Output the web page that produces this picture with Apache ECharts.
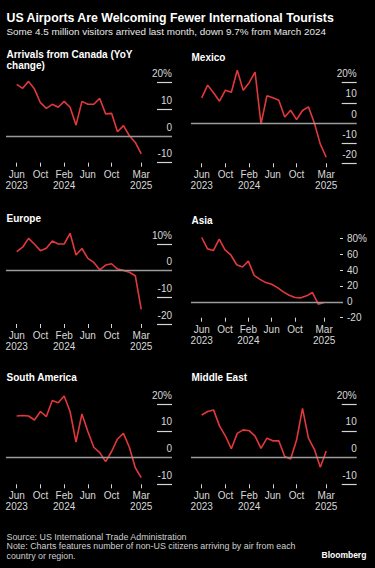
<!DOCTYPE html>
<html><head><meta charset="utf-8">
<script src="https://cdn.jsdelivr.net/npm/echarts@6/dist/echarts.min.js"></script>
<style>html,body{margin:0;padding:0;background:#000;}#c{width:375px;height:568px;}</style>
</head><body><div id="c"></div>
<script>
// Months Jun 2023 .. Mar 2025
const months = ['Jun 2023','Jul 2023','Aug 2023','Sep 2023','Oct 2023','Nov 2023','Dec 2023','Jan 2024','Feb 2024','Mar 2024','Apr 2024','May 2024','Jun 2024','Jul 2024','Aug 2024','Sep 2024','Oct 2024','Nov 2024','Dec 2024','Jan 2025','Feb 2025','Mar 2025'];
const tickMonths = ['Jun 2023','Oct 2023','Feb 2024','Jun 2024','Oct 2024','Mar 2025'];
const tickLabels = ['Jun\n2023','Oct','Feb\n2024','Jun','Oct','Mar\n2025'];

const canada = [19.4,17.9,20.5,17.6,12.5,10.4,11.9,10.8,13.0,10.8,4.1,13.0,11.9,11.9,14.1,8.3,8.5,1.6,3.9,0.1,-2.4,-6.7];
const mexico = [12.5,18.8,15.0,10.8,16.3,15.3,26.2,16.2,20.0,25.3,-0.5,13.5,12.5,11.3,3.0,6.3,1.7,6.2,8.0,0.0,-10.5,-17.0];
const europe = [7.1,8.8,12.1,9.9,7.5,8.4,11.1,10.0,10.0,14.0,5.9,8.3,4.6,3.1,0.3,2.1,2.6,0.6,0.1,-0.6,-1.9,-14.5];
const asia = [81,66.7,64.6,79,65.4,59,46.7,43.8,51.3,33.3,28.3,24.2,22.1,17.9,12.5,8.3,5.4,5.0,7.5,11.7,-2.9,-0.8];
const southAmerica = [15.6,15.8,15.6,14.1,17.3,15.4,21.4,20.6,23.1,17.3,5.8,16.4,9.8,3.9,1.9,-1.5,2.3,7.0,9.1,3.9,-3.8,-7.5];
const middleEast = [16.0,17.3,17.9,11.9,8.1,3.3,9.1,10.4,10.1,8.1,3.5,7.3,6.3,6.3,0.4,-0.5,6.6,18.5,7.3,3.1,-3.6,2.5];

const canadaTicks = [-10,0,10,20];
const mexicoTicks = [-20,-10,0,10,20];
const europeTicks = [-20,-10,0,10];
const asiaTicks = [-20,0,20,40,60,80];
const saTicks = [-10,0,10,20];
const meTicks = [-10,0,10,20];

const titles = ['Arrivals from Canada (YoY\nchange)','Mexico','Europe','Asia','South America','Middle East'];

const RED = '#e2383c';
const TICK = '#d4d4d4';
const ZERO = '#9a9a9a';
const LABEL = '#d8d8d8';
const tickIdx = tickMonths.map(m => months.indexOf(m));

const panels = [
  {data: canada, ticks: canadaTicks, left: 6, width: 166, top: 82.7, height: 80, jun: 16.7, ppm: 5.93, style: 'bb'},
  {data: mexico, ticks: mexicoTicks, left: 191, width: 165.7, top: 82.7, height: 80.6, jun: 201.7, ppm: 5.93, style: 'bb'},
  {data: europe, ticks: europeTicks, left: 6, width: 166, top: 244, height: 80, jun: 16.7, ppm: 5.93, style: 'bb'},
  {data: asia, ticks: asiaTicks, left: 191, width: 152, top: 238.3, height: 79.4, jun: 201.7, ppm: 5.83, style: 'asia'},
  {data: southAmerica, ticks: saTicks, left: 6, width: 166, top: 404.3, height: 80, jun: 16.7, ppm: 5.93, style: 'bb'},
  {data: middleEast, ticks: meTicks, left: 191, width: 165.7, top: 404.3, height: 80, jun: 201.7, ppm: 5.93, style: 'bb'}
];

const FONT = 'Liberation Sans';
const grid = [], xAxis = [], yAxis = [], series = [];
panels.forEach((p, k) => {
  grid.push({left: p.left, width: p.width, top: p.top, height: p.height, containLabel: false});
  const xmin = -(p.jun - p.left) / p.ppm;
  const xmax = xmin + p.width / p.ppm;
  xAxis.push({
    gridIndex: k, type: 'value', position: 'bottom', min: xmin, max: xmax,
    axisLine: {show: false, onZero: false}, splitLine: {show: false},
    axisTick: {show: true, customValues: tickIdx, length: 4, lineStyle: {color: TICK, width: 1}},
    axisLabel: {show: true, customValues: tickIdx, margin: 6, color: LABEL, fontSize: 10, lineHeight: 11, fontFamily: FONT,
      formatter: v => { const i = tickIdx.indexOf(Math.round(v)); return i >= 0 ? tickLabels[i] : ''; }}
  });
  const tmin = p.ticks[0], tmax = p.ticks[p.ticks.length - 1];
  const fmt = v => v === tmax ? v + '%' : String(v);
  const y = {
    gridIndex: k, type: 'value', position: 'right', min: tmin, max: tmax, interval: p.ticks[1] - p.ticks[0],
    axisLine: {show: false, onZero: false}, splitLine: {show: false}
  };
  const mlData = [{yAxis: 0, lineStyle: {color: ZERO, width: 1.3, type: 'solid'}}];
  if (p.style === 'bb') {
    y.axisTick = {show: false};
    y.axisLabel = {show: false};
    // short rules under each y label, at the right end of the panel
    const x0 = xmax - 15 / p.ppm;
    p.ticks.forEach(v => {
      if (v === 0) return;
      mlData.push([{coord: [x0, v], lineStyle: {color: TICK, width: 1.2, type: 'solid'}}, {coord: [xmax, v]}]);
    });
  } else {
    y.axisTick = {show: true, inside: true, length: 3, lineStyle: {color: TICK, width: 1}};
    y.axisLabel = {color: LABEL, fontSize: 10, fontFamily: FONT, formatter: fmt,
      inside: false, margin: 4, align: 'left', verticalAlign: 'middle'};
  }
  yAxis.push(y);
  series.push({
    type: 'line', xAxisIndex: k, yAxisIndex: k, clip: false, symbol: 'none', silent: true, animation: false,
    data: p.data.map((v, i) => [i, v]),
    lineStyle: {color: RED, width: 1.6},
    markLine: {silent: true, symbol: 'none', label: {show: false}, animation: false,
      lineStyle: {color: ZERO, width: 1.3, type: 'solid'}, data: mlData},
    z: 3
  });
});

// y labels for Bloomberg-style panels: a narrow companion grid at each panel's right end
panels.forEach((p, k) => {
  if (p.style !== 'bb') return;
  const gi = grid.length;
  const tmin = p.ticks[0], tmax = p.ticks[p.ticks.length - 1];
  grid.push({left: p.left + p.width - 15, width: 15, top: p.top, height: p.height, containLabel: false});
  xAxis.push({gridIndex: gi, type: 'value', min: 0, max: 1, show: false});
  yAxis.push({
    gridIndex: gi, type: 'value', position: 'right', min: tmin, max: tmax, interval: p.ticks[1] - p.ticks[0],
    axisLine: {show: false, onZero: false}, axisTick: {show: false}, splitLine: {show: false},
    axisLabel: {show: true, inside: true, margin: 0, align: 'right', verticalAlign: 'bottom', padding: [0, 0, 4, 0],
      color: LABEL, fontSize: 10, fontFamily: FONT, formatter: v => v === tmax ? v + '%' : String(v)}
  });
});

const titlePos = [[6.5, 48.5],[191.5, 51.5],[6.5, 212.5],[191.5, 214.5],[6.5, 371.5],[191.5, 371.5]];
const title = [
  {text: 'US Airports Are Welcoming Fewer International Tourists', left: 6.5, top: 12, padding: 0,
   textStyle: {color: '#fff', fontSize: 12.3, fontWeight: 'bold', fontFamily: FONT}},
  {text: 'Some 4.5 million visitors arrived last month, down 9.7% from March 2024', left: 6.5, top: 26.5, padding: 0,
   textStyle: {color: '#e8e8e8', fontSize: 9.9, fontWeight: 'normal', fontFamily: FONT}},
  {text: 'Source: US International Trade Administration\nNote: Charts features number of non-US citizens arriving by air from each\ncountry or region.',
   left: 6.5, top: 532, padding: 0,
   textStyle: {color: '#cfcfcf', fontSize: 8.9, lineHeight: 9.4, fontWeight: 'normal', fontFamily: FONT}},
  {text: 'Bloomberg', left: 321.5, top: 550, padding: 0,
   textStyle: {color: '#fff', fontSize: 8.5, fontWeight: 'bold', fontFamily: FONT}}
];
titles.forEach((t, k) => {
  title.push({text: t, left: titlePos[k][0], top: titlePos[k][1], padding: 0,
    textStyle: {color: '#fff', fontSize: 10, lineHeight: 11, fontWeight: 'bold', fontFamily: FONT}});
});

const chart = echarts.init(document.getElementById('c'), null, {renderer: 'svg'});
chart.setOption({backgroundColor: '#000', animation: false, title, grid, xAxis, yAxis, series});
</script></body></html>
